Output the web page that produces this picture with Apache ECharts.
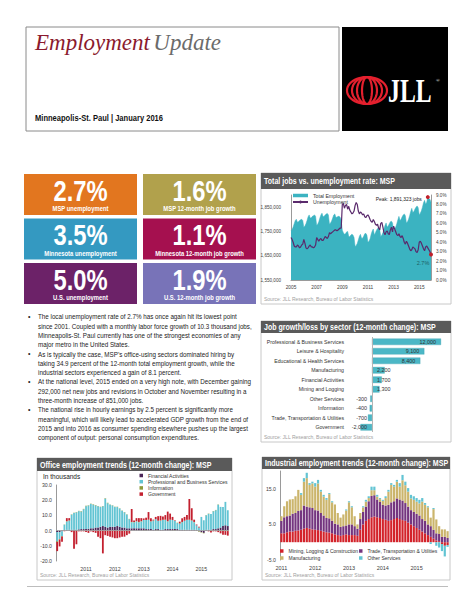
<!DOCTYPE html>
<html><head><meta charset="utf-8">
<script src="https://cdn.jsdelivr.net/npm/echarts@6/dist/echarts.min.js"></script>
<style>html,body{margin:0;padding:0;background:#fff}#c{width:474px;height:613px}</style>
</head><body><div id="c"></div>
<script>
// ---------------- DATA ----------------
const pageTitleA = 'Employment';
const pageTitleB = 'Update';
const pageSubtitle = 'Minneapolis-St. Paul | January 2016';

const kpiValues = ['2.7%', '1.6%', '3.5%', '1.1%', '5.0%', '1.9%'];
const kpiLabels = ['MSP unemployment', 'MSP 12-month job growth', 'Minnesota unemployment',
  'Minnesota 12-month job growth', 'U.S. unemployment', 'U.S. 12-month job growth'];

const bulletParas = [
  ['The local unemployment rate of 2.7% has once again hit its lowest point',
   'since 2001. Coupled with a monthly labor force growth of 10.3 thousand jobs,',
   'Minneapolis-St. Paul currently has one of the strongest economies of any',
   'major metro in the United States.'],
  ['As is typically the case, MSP\u2019s office-using sectors dominated hiring by',
   'taking 34.9 percent of the 12-month total employment growth, while the',
   'industrial sectors experienced a gain of 8.1 percent.'],
  ['At the national level, 2015 ended on a very high note, with December gaining',
   '292,000 net new jobs and revisions in October and November resulting in a',
   'three-month increase of 851,000 jobs.'],
  ['The national rise in hourly earnings by 2.5 percent is significantly more',
   'meaningful, which will likely lead to accelerated GDP growth from the end of',
   '2015 and into 2016 as consumer spending elsewhere pushes up the largest',
   'component of output: personal consumption expenditures.']
];

const sourceText = 'Source: JLL Research, Bureau of Labor Statistics';

// Total jobs vs unemployment (monthly Jan 2005 - Dec 2015), employment in thousands
const jobsTitle = 'Total jobs vs. unemployment rate: MSP';
const employment = [
  1752,1758,1768,1782,1795,1800,1788,1790,1795,1798,1800,1795,
  1767,1772,1782,1795,1810,1818,1805,1806,1812,1815,1818,1812,
  1775,1780,1790,1805,1818,1825,1810,1812,1818,1822,1824,1818,
  1780,1785,1793,1805,1818,1822,1808,1808,1812,1812,1808,1795,
  1755,1745,1738,1740,1748,1750,1730,1728,1735,1738,1735,1725,
  1688,1692,1700,1715,1730,1738,1722,1722,1730,1740,1742,1735,
  1705,1710,1720,1738,1752,1760,1735,1745,1755,1762,1765,1758,
  1728,1735,1745,1760,1775,1785,1768,1772,1782,1790,1792,1785,
  1752,1760,1768,1782,1798,1812,1795,1800,1810,1818,1822,1815,
  1785,1790,1800,1815,1832,1845,1828,1832,1842,1850,1855,1848,
  1818,1825,1835,1850,1868,1878,1862,1870,1891.323,1885,1882,1870];
const unemployment = [
  4.5,4.3,4.0,3.6,3.5,3.5,3.7,3.6,3.4,3.5,3.7,3.8,
  4.3,3.9,3.4,3.3,3.4,3.6,3.7,3.5,3.5,3.4,3.5,3.7,
  4.5,4.3,4.1,4.3,4.4,4.2,4.2,4.4,4.6,4.5,4.4,4.6,
  5.0,4.9,5.0,5.1,5.2,5.3,5.3,5.2,5.3,5.4,5.5,5.5,
  8.0,8.1,7.6,7.9,8.0,7.5,7.8,7.4,7.2,7.0,7.1,7.3,
  7.9,8.2,8.0,7.3,7.0,7.2,7.1,6.9,7.0,6.7,6.6,6.8,
  6.9,6.7,6.4,6.2,6.1,6.4,6.2,5.9,5.8,5.9,5.5,5.3,
  6.0,6.1,5.6,5.0,4.8,5.1,5.2,4.9,4.8,5.3,5.6,5.1,
  5.7,5.4,5.1,4.8,4.7,4.9,4.6,4.5,4.7,4.4,4.0,3.8,
  4.1,3.9,3.6,3.3,3.1,3.2,3.5,3.4,3.3,3.0,2.9,3.2,
  4.0,4.1,3.9,3.6,3.3,3.1,3.5,3.6,3.4,3.2,3.0,2.7];

// Job growth/loss by sector
const sectorTitle = 'Job growth/loss by sector (12-month change): MSP';
const sectorNames = ['Professional & Business Services', 'Leisure & Hospitality', 'Educational & Health Services',
  'Manufacturing', 'Financial Activities', 'Mining and Logging', 'Other Services', 'Information',
  'Trade, Transportation & Utilities', 'Government'];
const sectorValues = [12000, 9100, 8400, 2200, 1700, 1300, -300, -400, -700, -2000];

// Office employment trends (Jan 2010 - Dec 2015), thousands
const officeTitle = 'Office employment trends (12-month change): MSP';
const officeFinancial = [
  -1,-1,-0.5,0.3,0.5,0.5,0.5,0.5,0.5,0.8,1,1,
  1,1.2,1.5,1.5,2,2,2.5,3,2.5,2,2.5,2.5,
  2.5,3,2.5,2,2,1.5,1.5,1.5,1.5,1.5,1.5,1.5,
  1.5,1,1,1,0.5,1,1,0.5,0.5,1,1,1,
  1,1,1,0.5,0.5,0.5,0.5,0.5,0.5,0.5,0.5,-0.5,
  -1,-1.5,0.5,0.5,0.5,1,1,1.5,2,3,3.5,3];
const officeProfessional = [
  -6,-4.5,-3,3.5,5.5,6,10,11,11.5,12,11.5,13,
  15,15.3,16,15.5,14.5,14,13,13,18.5,16,14.5,14,
  13,12.5,12,11,10,9,6,4,4,4.5,4,4.5,
  5.5,6,6,5,6,6.5,5.5,6,6.5,6,5,6,
  6,5.5,4,4,5,6,6.5,6.5,6,5,3,2,
  9,6.8,9.5,10.5,10.5,11.7,12.4,15.5,13.6,12.6,15.4,10.4];
const officeInformation = [
  -0.5,-0.4,-0.3,0.2,0.2,0.2,0.2,0.3,0.2,0.2,0.3,0.3,
  0.3,0.2,0.2,0.3,0.3,0.2,0.2,0.2,0.3,0.3,0.2,0.2,
  0.2,0.2,0.2,0.2,0.2,0.2,0.2,0.2,0.2,0.2,0.2,0.2,
  -0.2,-0.2,0.2,0.2,0.2,-0.2,-0.2,0.2,0.2,0.2,0.2,0.2,
  -0.2,-0.2,0.2,0.2,0.2,-0.2,0.2,0.2,0.2,0.2,-0.2,-0.3,
  -0.3,-0.3,0.2,0.2,-0.2,0.2,0.2,0.2,-0.3,-0.3,-0.3,-0.3];
const officeGovernment = [
  -6,-4.5,-3.5,-0.5,2,1.5,-1,-12,-9,-0.5,-0.5,-0.5,
  -1,-1.5,-0.5,-1,-1.5,-4,-5,-15,-3,-3.5,-4,-4.5,
  -5,-5,-4.5,-4,-4,-3,-2,8.5,1,2,2.5,2,
  1,1.5,5,2,0.5,1.5,3,3,2,3,6.3,4,
  2,0.3,0,1.2,2.4,2.5,3,13.6,8,1.5,0.5,0.5,
  0,0,0,-0.5,-1,-0.5,-0.5,-1,-1.5,-2.5,-2.5,-3];
const officeUnitLabel = 'In thousands';

// Industrial employment trends (Jan 2011 - Dec 2015), thousands
const industrialTitle = 'Industrial employment trends (12-month change): MSP';
const indMining = [
  2.5,2.5,2.8,3.0,3.0,3.2,3.3,3.5,3.8,4.0,3.8,3.6,
  3.5,3.4,3.2,3.0,2.8,2.7,2.5,2.2,2.0,1.8,2.0,2.2,
  2.0,2.0,2.0,1.8,3.5,5.0,6.0,6.5,7.0,7.2,7.0,6.8,
  6.5,6.3,6.0,6.2,6.5,6.8,6.5,6.2,6.0,5.5,5.0,4.5,
  4.0,3.5,3.0,2.5,2.0,1.5,1.0,0.5,0.3,-0.5,-1.0,-0.8];
const indTrade = [
  3.5,4.5,4.5,4.5,5,5,5.5,5.5,6.5,6,6,6,
  5.5,5.5,5,4.5,4,4,3.5,3,3,2.5,2.5,2.5,
  3,3,2.5,2,3,3.5,4,5,6,6,5,4.5,
  4,4,4.5,5,5,5.5,5.5,5.5,5,4.5,4,4,
  4,4,3.5,3.5,3,3,2.5,2,2,1.5,1.5,1.2];
const indManufacturing = [
  1.3,3.1,4.2,4.5,4.1,4.7,5.9,4.3,6.7,8,6.3,6.9,
  6.6,7.6,6,5.3,5.1,6.8,5.2,5.4,3.2,2.6,3.3,4.2,
  6.2,4.8,2.8,1.2,1.7,1.3,1.4,0.9,1.6,1.4,0.8,0.8,
  1.1,2.1,3.7,4.9,4.1,4.7,3.6,5.7,5,4.2,3.3,3.4,
  3.4,3.4,4.9,4.5,4.8,2.4,5.8,3.9,2.2,2.1,2.1,1.9];
const indOther = [
  0,0,0,0,0,0,0,0.5,1,1.5,0.5,0.5,
  1,1,0.5,0.5,0.5,0.3,0.3,0,0,0,0,0.3,
  0.3,0.3,0,0,0,0.3,0.5,0.5,1,1,0.5,0.3,
  0.3,0.5,0.5,0.5,0.5,0.5,1,1.5,1,1,1,1,
  1,1,1,0.5,0.3,-0.5,0.3,-1,-1.5,-2,-3,-0.5];

// ---------------- HELPERS ----------------
function monthsFrom(y0, n) {
  const a = [];
  for (let i = 0; i < n; i++) a.push((y0 + Math.floor(i / 12)) + '-' + String(i % 12 + 1).padStart(2, '0'));
  return a;
}
const jobsMonths = monthsFrom(2005, employment.length);
const officeMonths = monthsFrom(2010, officeProfessional.length);
const indMonths = monthsFrom(2011, indMining.length);

const NF = "'Liberation Sans',Arial,sans-serif";
const SF = "'Liberation Serif','Times New Roman',serif";
const fmtThousands = v => Math.round(v).toString().replace(/\B(?=(\d{3})+(?!\d))/g, ',');

const G = [];
function R(x, y, w, h, fill, stroke, lw, z) {
  G.push({type: 'rect', silent: true, z: z || 0, shape: {x, y, width: w, height: h},
    style: {fill: fill || 'none', stroke: stroke || 'none', lineWidth: lw || 0}});
}
function T(x, y, s, size, opt) {
  opt = opt || {};
  G.push({type: 'text', silent: true, z: opt.z || 5, x, y, scaleX: opt.sx || 1,
    style: {text: s, fill: opt.color || '#333',
      font: (opt.style || 'normal') + ' ' + (opt.weight || 'normal') + ' ' + size + 'px ' + (opt.family || NF),
      textAlign: opt.align || 'left', textVerticalAlign: opt.va || 'middle'}});
}
function ellipse(cx, cy, rx, ry) {
  const pts = [];
  for (let i = 0; i < 48; i++) { const a = i / 48 * Math.PI * 2; pts.push([cx + rx * Math.cos(a), cy + ry * Math.sin(a)]); }
  return pts;
}

// ---------------- PAGE GRAPHICS ----------------
// header
R(26, 27, 313, 104, '#fff', '#8a8a8a', 1, 0);
R(342, 27, 106, 104, '#000', null, 0, 0);
[20, 15, 10, 5].forEach(rx => G.push({type: 'polygon', silent: true, z: 3, shape: {points: ellipse(367, 90.5, rx, 13.5)},
  style: {fill: 'none', stroke: '#e4202e', lineWidth: 2.2}}));
T(388, 91, 'JLL', 33, {family: SF, weight: 'bold', color: '#fff', sx: 0.72});
T(436, 80, '\u00ae', 5, {family: SF, color: '#fff'});
G.push({type: 'text', silent: true, z: 5, x: 35, y: 54,
  style: {text: '{a|' + pageTitleA + '} {b|' + pageTitleB + '}', textVerticalAlign: 'bottom',
    rich: {a: {fontFamily: SF, fontStyle: 'italic', fontSize: 23, fill: '#8b1a2e', color: '#8b1a2e'},
           b: {fontFamily: SF, fontStyle: 'italic', fontSize: 23, fill: '#6b6b6b', color: '#6b6b6b'}}}});
T(35, 118, pageSubtitle, 8.5, {weight: 'bold', color: '#111', sx: 0.89});

// KPI tiles
const tileColors = ['#e2761f', '#b1a14c', '#3499c1', '#a5104f', '#6c2268', '#7873b8'];
kpiValues.forEach((v, i) => {
  const col = i % 2, row = Math.floor(i / 2);
  const x = col ? 143 : 24, y = 174 + row * 44.5;
  R(x, y, 113, 41, tileColors[i], null, 0, 1);
  T(x + 56.5, y + 17, v, 29, {weight: 'bold', color: '#fff', align: 'center', sx: 0.82});
  T(x + 56.5, y + 34.5, kpiLabels[i], 7, {weight: 'bold', color: '#fff', align: 'center', sx: 0.84});
});

// bullets
let li = 0;
bulletParas.forEach(p => {
  p.forEach((line, j) => {
    const y = 316.7 + li * 9.3;
    if (j === 0) T(28, y, '\u2022', 7, {color: '#222'});
    T(38, y, line, 7.2, {color: '#222', sx: 0.87});
    li++;
  });
});

// panels
function panel(x, y, w, h, hh, title) {
  R(x, y, w, h, '#fff', '#c8c8c8', 1, 0);
  R(x, y, w, hh, '#5a5a5a', null, 0, 1);
  T(x + 3, y + hh / 2 + 0.5, title, 8.5, {weight: 'bold', color: '#fff', sx: 0.83});
  T(x + 3, y + h - 5, sourceText, 5, {color: '#a0a0a0'});
}
panel(261, 173, 190, 131, 16, jobsTitle);
panel(261, 321, 190, 121, 12, sectorTitle);
panel(37, 458, 195, 122, 13, officeTitle);
panel(262, 457, 188, 123, 12, industrialTitle);
T(43, 476, officeUnitLabel, 6.5, {color: '#222'});
G.push({type: 'line', silent: true, z: 0, shape: {x1: 27, y1: 586.5, x2: 448, y2: 586.5}, style: {stroke: '#bdbdbd', lineWidth: 1.2}});

// ---------------- CHART ----------------
const tx = (size, extra) => Object.assign({fontFamily: NF, fontSize: size, color: '#404040'}, extra || {});
const sectorData = sectorValues.map(v => ({
  value: v,
  label: {position: v >= 5000 ? 'insideRight' : (v > 0 ? 'insideLeft' : 'insideRight')}
}));
const smallLeg = (name, left, top) => ({data: [name], left, top, itemWidth: 3.5, itemHeight: 3.5, icon: 'rect',
  textStyle: tx(5, {color: '#333'}), padding: 0, itemGap: 0});

const option = {
  animation: false,
  backgroundColor: '#fff',
  graphic: {elements: G},
  grid: [
    {left: 291, top: 195, width: 140, height: 85},
    {left: 349, top: 337, width: 103.5, height: 95},
    {left: 56, top: 485, width: 173, height: 76},
    {left: 280, top: 471, width: 169, height: 89}
  ],
  legend: [
    {data: [{name: 'Total Employment', icon: 'rect'}, {name: 'Unemployment'}], orient: 'vertical',
      left: 292, top: 193, itemWidth: 15, itemHeight: 3.5, itemGap: 1.5, textStyle: tx(5.2, {color: '#333'}), padding: 0},
    {data: ['Financial Activities', 'Professional and Business Services', 'Information', 'Government'],
      orient: 'vertical', left: 139.5, top: 473, itemWidth: 3.5, itemHeight: 3.5, itemGap: 1.2, icon: 'rect',
      textStyle: tx(5, {color: '#333'}), padding: 0},
    smallLeg('Mining, Logging & Construction', 280, 548.5),
    smallLeg('Trade, Transportation & Utilities', 359, 548.5),
    smallLeg('Manufacturing', 280, 555.5),
    smallLeg('Other Services', 359, 555.5)
  ],
  xAxis: [
    {gridIndex: 0, type: 'category', data: jobsMonths, boundaryGap: false,
      axisLine: {lineStyle: {color: '#9a9a9a'}}, axisTick: {show: false},
      axisLabel: tx(4.8, {interval: (i) => i % 24 === 0, formatter: v => v.slice(0, 4), margin: 5})},
    {gridIndex: 1, type: 'value', min: -4000, max: 14000, show: false},
    {gridIndex: 2, type: 'category', data: officeMonths, axisLine: {show: false}, axisTick: {show: false},
      axisLabel: tx(5.3, {interval: (i) => i % 12 === 0 && i > 0, formatter: v => v.slice(0, 4), margin: 5})},
    {gridIndex: 3, type: 'category', data: indMonths, axisLine: {show: false}, axisTick: {show: false},
      axisLabel: tx(5.5, {interval: (i) => i % 12 === 0, formatter: v => v.slice(0, 4), margin: 5})}
  ],
  yAxis: [
    {gridIndex: 0, type: 'value', min: 1550, max: 1900, interval: 50, splitLine: {show: false},
      axisLine: {show: true, lineStyle: {color: '#9a9a9a'}}, axisTick: {show: false},
      axisLabel: tx(4.6, {formatter: v => ((v - 1550) % 100 === 0 && v < 1900) ? fmtThousands(v * 1000) : '', margin: 10})},
    {gridIndex: 0, type: 'value', position: 'right', min: 0, max: 9, interval: 1, splitLine: {show: false},
      axisLine: {show: true, lineStyle: {color: '#9a9a9a'}}, axisTick: {show: false},
      axisLabel: tx(4.6, {formatter: v => v.toFixed(1) + '%', margin: 5})},
    {gridIndex: 1, type: 'category', data: sectorNames, inverse: true, axisLine: {show: false}, axisTick: {show: false},
      axisLabel: tx(5.2, {margin: 5, color: '#333'})},
    {gridIndex: 2, type: 'value', min: -20, max: 30, interval: 10, splitLine: {show: false},
      axisLine: {show: true, lineStyle: {color: '#9a9a9a'}}, axisTick: {show: false},
      axisLabel: tx(5.2, {formatter: v => v.toFixed(1), margin: 4})},
    {gridIndex: 3, type: 'value', min: -5, max: 20, interval: 5, splitLine: {show: false},
      axisLine: {show: true, lineStyle: {color: '#9a9a9a'}}, axisTick: {show: false},
      axisLabel: tx(5.2, {formatter: v => ((v + 5) % 10 === 0 && v < 20) ? v.toFixed(1) : '', margin: 4})}
  ],
  series: [
    {name: 'Total Employment', type: 'line', xAxisIndex: 0, yAxisIndex: 0, data: employment, symbol: 'none',
      lineStyle: {width: 0.5, color: '#3bb3c1'}, itemStyle: {color: '#3bb3c1'}, areaStyle: {color: '#3bb3c1', opacity: 1}, z: 2,
      markPoint: {symbol: 'circle', symbolSize: 4, itemStyle: {color: '#c0202a'}, data: [{type: 'max'}],
        label: {show: true, position: 'left', distance: 4, formatter: p => 'Peak: ' + fmtThousands(p.value * 1000) + ' jobs',
          fontFamily: NF, fontSize: 4.9, color: '#222', offset: [0, 2]}}},
    {name: 'Unemployment', type: 'line', xAxisIndex: 0, yAxisIndex: 1, data: unemployment, symbol: 'none',
      lineStyle: {width: 1.2, color: '#5a2a6c'}, itemStyle: {color: '#5a2a6c'}, z: 3,
      markPoint: {symbol: 'circle', symbolSize: 4, itemStyle: {color: '#c0202a'},
        data: [{coord: [unemployment.length - 1, unemployment[unemployment.length - 1]], value: unemployment[unemployment.length - 1]}],
        label: {show: true, position: 'bottom', offset: [-8, -2], formatter: p => p.value.toFixed(1) + '%',
          fontFamily: NF, fontSize: 5.5, color: '#1f5f66'}}},
    {name: 'sector', type: 'bar', xAxisIndex: 1, yAxisIndex: 2, data: sectorData, barWidth: 6.5,
      itemStyle: {color: '#4bb7c6', borderColor: '#2f9aa8', borderWidth: 0.3},
      label: {show: true, formatter: p => fmtThousands(p.value).replace('-,', '-'), fontFamily: NF, fontSize: 5.4, color: '#333', distance: 5},
      markLine: {silent: true, symbol: 'none', data: [{xAxis: 0}], lineStyle: {color: '#b5b5b5', width: 1, type: 'solid'}, label: {show: false}}},
    {name: 'Financial Activities', type: 'bar', stack: 'off', xAxisIndex: 2, yAxisIndex: 3, data: officeFinancial,
      itemStyle: {color: '#4b2558'}, barCategoryGap: '25%',
      markLine: {silent: true, symbol: 'none', data: [{yAxis: 0}], lineStyle: {color: '#a0a0a0', width: 0.8, type: 'solid'}, label: {show: false}}},
    {name: 'Professional and Business Services', type: 'bar', stack: 'off', xAxisIndex: 2, yAxisIndex: 3, data: officeProfessional,
      itemStyle: {color: '#62c4d3'}},
    {name: 'Information', type: 'bar', stack: 'off', xAxisIndex: 2, yAxisIndex: 3, data: officeInformation,
      itemStyle: {color: '#8d9b3a'}},
    {name: 'Government', type: 'bar', stack: 'off', xAxisIndex: 2, yAxisIndex: 3, data: officeGovernment,
      itemStyle: {color: '#c3202f'}},
    {name: 'Mining, Logging & Construction', type: 'bar', stack: 'ind', xAxisIndex: 3, yAxisIndex: 4, data: indMining,
      itemStyle: {color: '#d3232b'}, barCategoryGap: '22%'},
    {name: 'Trade, Transportation & Utilities', type: 'bar', stack: 'ind', xAxisIndex: 3, yAxisIndex: 4, data: indTrade,
      itemStyle: {color: '#74357f'}},
    {name: 'Manufacturing', type: 'bar', stack: 'ind', xAxisIndex: 3, yAxisIndex: 4, data: indManufacturing,
      itemStyle: {color: '#cbb56c'}},
    {name: 'Other Services', type: 'bar', stack: 'ind', xAxisIndex: 3, yAxisIndex: 4, data: indOther,
      itemStyle: {color: '#62c4d3'}}
  ]
};

const chart = echarts.init(document.getElementById('c'), null, {renderer: 'svg'});
chart.setOption(option);
</script>
</body></html>
